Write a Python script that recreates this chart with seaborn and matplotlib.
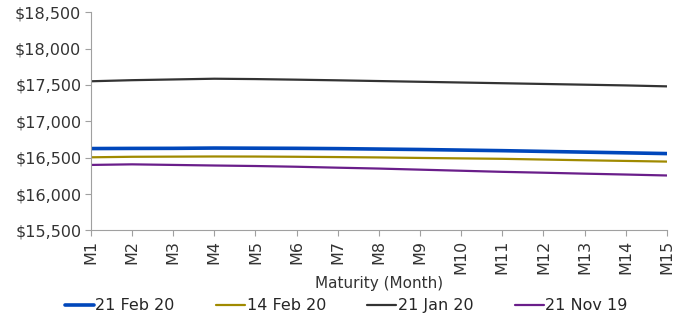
import pandas as pd
import seaborn as sns
import matplotlib.pyplot as plt
from matplotlib.ticker import FuncFormatter

months = ['M' + str(i) for i in range(1, 16)]
feb21 = [16625, 16627, 16628, 16632, 16630, 16628, 16624, 16618, 16612, 16604, 16596, 16586, 16576, 16566, 16556]
feb14 = [16505, 16512, 16514, 16516, 16515, 16512, 16508, 16503, 16496, 16490, 16484, 16474, 16464, 16455, 16446]
jan21 = [17550, 17565, 17575, 17585, 17580, 17572, 17563, 17553, 17543, 17533, 17523, 17513, 17503, 17493, 17480]
nov21 = [16400, 16408, 16400, 16392, 16385, 16375, 16362, 16350, 16335, 16320, 16305, 16293, 16280, 16268, 16255]
series_names = ['21 Feb 20', '14 Feb 20', '21 Jan 20', '21 Nov 19']
colors = ['#0047BB', '#A08A00', '#333333', '#6A1E8A']
widths = [2.6, 1.6, 1.6, 1.6]

df = pd.DataFrame({'Maturity': months * 4,
                   'Price': feb21 + feb14 + jan21 + nov21,
                   'Series': sum([[s] * 15 for s in series_names], [])})

sns.set_style('white')
plt.rcParams['font.family'] = ['DejaVu Sans']

fig, ax = plt.subplots(figsize=(6.79, 3.2), dpi=100)
for name, c, w in zip(series_names, colors, widths):
    sub = df[df['Series'] == name]
    sns.lineplot(x=range(15), y=sub['Price'].values, ax=ax, color=c, linewidth=w, label=name)

ax.set_xlim(0, 14)
ax.set_ylim(15500, 18500)
ax.set_yticks(range(15500, 18501, 500))
ax.yaxis.set_major_formatter(FuncFormatter(lambda v, p: '${:,.0f}'.format(v)))
ax.set_xticks(range(15))
ax.set_xticklabels(months, rotation=90)
ax.set_xlabel('Maturity (Month)', fontsize=11, color='#333333', labelpad=1)
ax.set_ylabel('')
for s in ['top', 'right']:
    ax.spines[s].set_visible(False)
for s in ['left', 'bottom']:
    ax.spines[s].set_color('#A0A0A0')
ax.tick_params(axis='both', which='major', length=4, color='#A0A0A0', labelsize=11.5,
               labelcolor='#333333', bottom=True, left=True, pad=3)

ax.get_legend().remove()
handles, labels = ax.get_legend_handles_labels()
fig.legend(handles, labels, loc='center', bbox_to_anchor=(0.51, 0.045), ncol=4, frameon=False,
           fontsize=11.5, handlelength=1.8, handletextpad=0.1, columnspacing=2.6)

plt.subplots_adjust(left=0.134, right=0.982, top=0.962, bottom=0.28)
plt.savefig('out.png', dpi=100)
